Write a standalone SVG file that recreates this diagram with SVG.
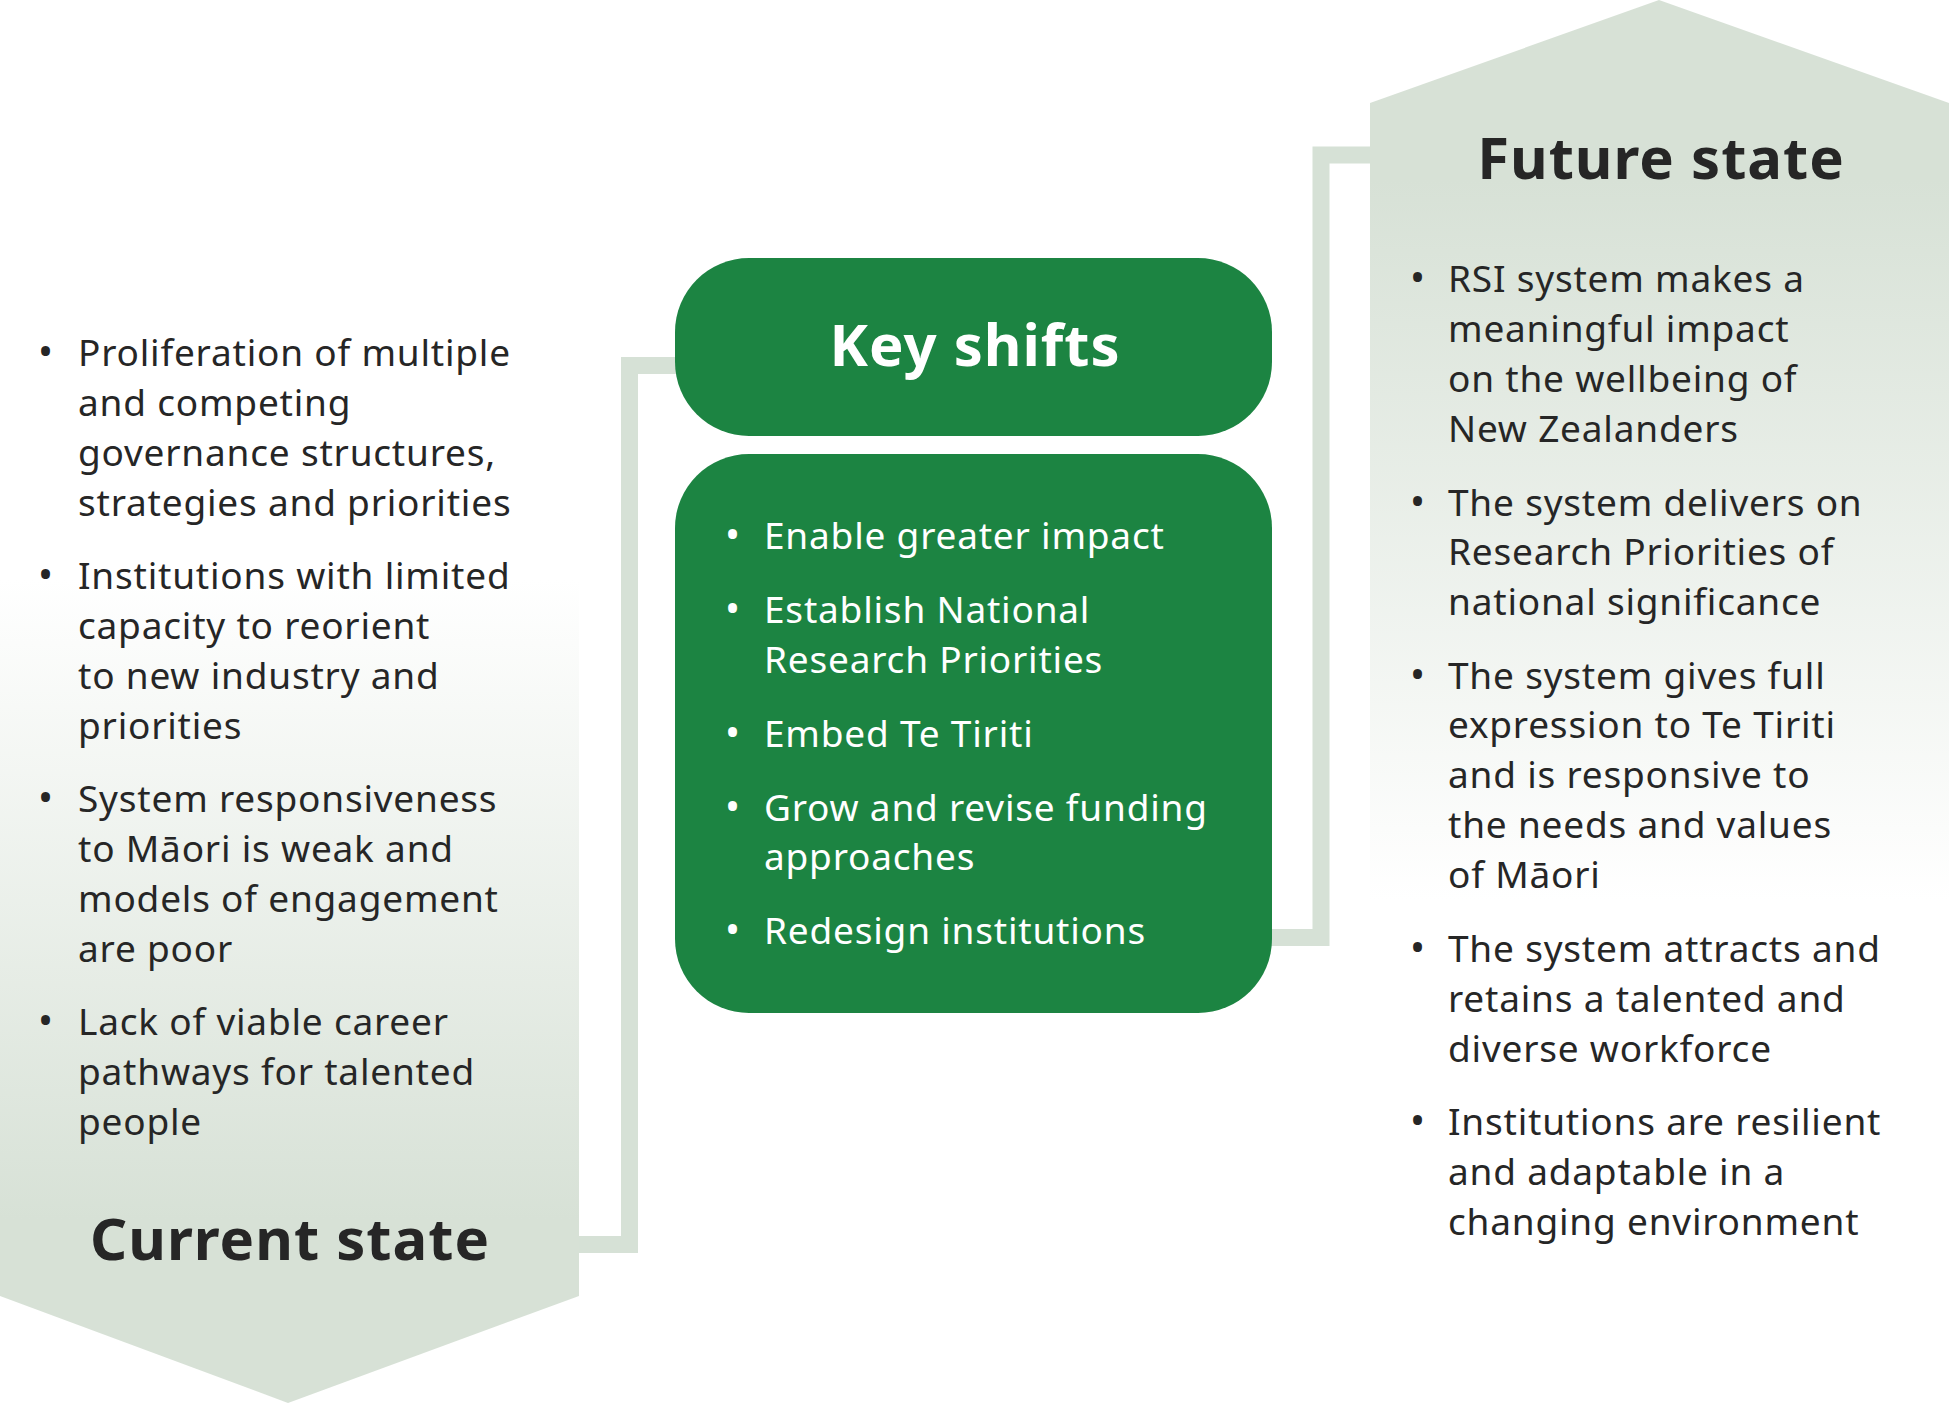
<svg xmlns="http://www.w3.org/2000/svg" width="1949" height="1403" viewBox="0 0 1949 1403">
<defs>
<linearGradient id="gCur" gradientUnits="userSpaceOnUse" x1="0" y1="580" x2="0" y2="1220">
<stop offset="0" stop-color="#ffffff"/>
<stop offset="1" stop-color="#d7e1d6"/>
</linearGradient>
<linearGradient id="gFut" gradientUnits="userSpaceOnUse" x1="0" y1="180" x2="0" y2="900">
<stop offset="0" stop-color="#d7e1d6"/>
<stop offset="1" stop-color="#ffffff"/>
</linearGradient>
<style>
.t{font-family:"Noto Sans","Open Sans","Liberation Sans",sans-serif;font-size:37px;letter-spacing:0.8px;fill:#262626}
.w{fill:#ffffff}
.b{font-size:40px}
.h{font-family:"Noto Sans","Open Sans","Liberation Sans",sans-serif;font-size:58px;font-weight:bold;letter-spacing:1px;fill:#262626;text-anchor:middle}
.hw{fill:#ffffff}
.box{fill:#1c8442}
.conn{fill:none;stroke:#d6e1d6;stroke-width:17}
</style>
</defs>
<rect width="1949" height="1403" fill="#ffffff"/>
<g id="connectors">
<path class="conn" d="M579,1244.5 H629.5 V365.5 H676"/>
<path class="conn" d="M1271,937.5 H1321 V155 H1371"/>
</g>
<g id="current-state">
<polygon points="0,0 579,0 579,1296 288,1403 0,1296" fill="url(#gCur)"/>
<g class="t">
<text class="b" x="38" y="366">•</text>
<text x="78" y="366">Proliferation of multiple</text>
<text x="78" y="416">and competing</text>
<text x="78" y="466">governance structures,</text>
<text x="78" y="516">strategies and priorities</text>
<text class="b" x="38" y="589">•</text>
<text x="78" y="589">Institutions with limited</text>
<text x="78" y="639">capacity to reorient</text>
<text x="78" y="689">to new industry and</text>
<text x="78" y="739">priorities</text>
<text class="b" x="38" y="812">•</text>
<text x="78" y="812">System responsiveness</text>
<text x="78" y="862">to Māori is weak and</text>
<text x="78" y="912">models of engagement</text>
<text x="78" y="962">are poor</text>
<text class="b" x="38" y="1035">•</text>
<text x="78" y="1035">Lack of viable career</text>
<text x="78" y="1085">pathways for talented</text>
<text x="78" y="1135">people</text>
</g>
<text class="h" x="290" y="1260">Current state</text>
</g>
<g id="key-shifts">
<rect class="box" x="675" y="258" width="597" height="178" rx="74" ry="74"/>
<text class="h hw" x="975" y="366">Key shifts</text>
</g>
<g id="key-shifts-list">
<rect class="box" x="675" y="454" width="597" height="559" rx="74" ry="74"/>
<g class="t w">
<text class="b" x="725" y="549">•</text>
<text x="764" y="549">Enable greater impact</text>
<text class="b" x="725" y="623">•</text>
<text x="764" y="623">Establish National</text>
<text x="764" y="673">Research Priorities</text>
<text class="b" x="725" y="747">•</text>
<text x="764" y="747">Embed Te Tiriti</text>
<text class="b" x="725" y="821">•</text>
<text x="764" y="821">Grow and revise funding</text>
<text x="764" y="870">approaches</text>
<text class="b" x="725" y="944">•</text>
<text x="764" y="944">Redesign institutions</text>
</g>
</g>
<g id="future-state">
<polygon points="1370,103 1659,0 1949,103 1949,1403 1370,1403" fill="url(#gFut)"/>
<text class="h" x="1661" y="179">Future state</text>
<g class="t">
<text class="b" x="1410" y="292">•</text>
<text x="1448" y="292">RSI system makes a</text>
<text x="1448" y="342">meaningful impact</text>
<text x="1448" y="392">on the wellbeing of</text>
<text x="1448" y="442">New Zealanders</text>
<text class="b" x="1410" y="516">•</text>
<text x="1448" y="516">The system delivers on</text>
<text x="1448" y="565">Research Priorities of</text>
<text x="1448" y="615">national significance</text>
<text class="b" x="1410" y="689">•</text>
<text x="1448" y="689">The system gives full</text>
<text x="1448" y="738">expression to Te Tiriti</text>
<text x="1448" y="788">and is responsive to</text>
<text x="1448" y="838">the needs and values</text>
<text x="1448" y="888">of Māori</text>
<text class="b" x="1410" y="962">•</text>
<text x="1448" y="962">The system attracts and</text>
<text x="1448" y="1012">retains a talented and</text>
<text x="1448" y="1062">diverse workforce</text>
<text class="b" x="1410" y="1135">•</text>
<text x="1448" y="1135">Institutions are resilient</text>
<text x="1448" y="1185">and adaptable in a</text>
<text x="1448" y="1235">changing environment</text>
</g>
</g>
</svg>
